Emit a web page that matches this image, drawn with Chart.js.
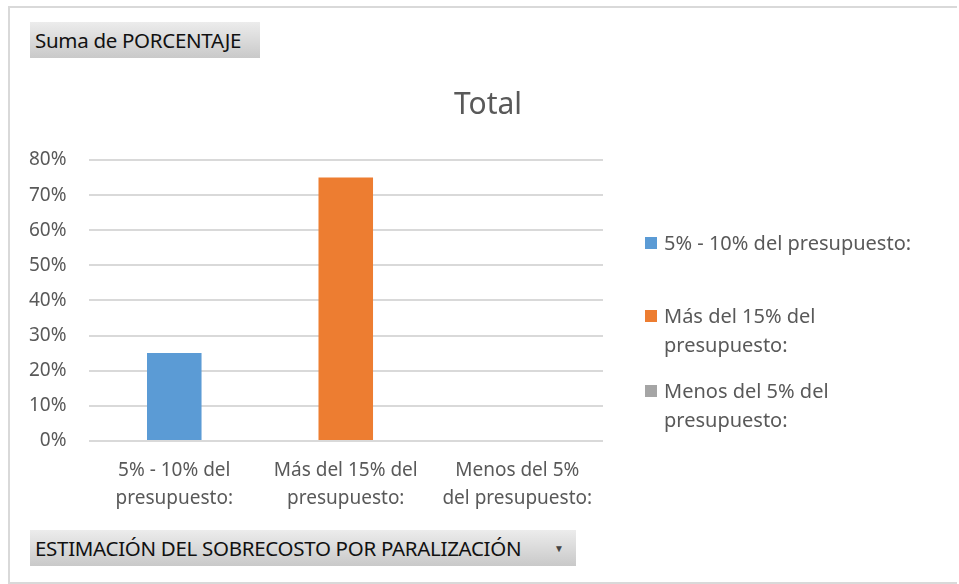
<!DOCTYPE html>
<html>
<head>
<meta charset="utf-8">
<script src="https://cdn.jsdelivr.net/npm/chart.js@4.4.1/dist/chart.umd.min.js"></script>
<style>
    body { margin: 0; background: #fff; font-family: 'Noto Sans', sans-serif; }
    #wrap { position: relative; width: 959px; height: 584px; overflow: hidden; }
    #frame { position: absolute; left: 8px; top: 6px; width: 947px; height: 574px; border: 2px solid #d9d9d9; border-right: none; }
    #chart { position: absolute; left: 0; top: 0; }
    .pivot-btn {
        position: absolute; height: 36px; line-height: 36px; padding-left: 5px; box-sizing: border-box;
        background: linear-gradient(#ececec, #c9c9c9); color: #111; font-size: 20.5px; white-space: nowrap; letter-spacing: -0.3px;
    }
    #title { position: absolute; left: 0; width: 976px; top: 82px; text-align: center; font-size: 30px; color: #595959; }
    #legend { position: absolute; left: 645px; top: 228px; color: #595959; font-size: 20px; }
    .leg-item { display: flex; align-items: flex-start; margin-bottom: 17px; }
    .leg-box { width: 12px; height: 12px; margin-top: 9px; margin-right: 7px; flex: none; }
    .leg-text { width: 268px; line-height: 29px; }
</style>
</head>
<body>
<div id="wrap">
    <div id="frame"></div>
    <canvas id="chart" width="959" height="584"></canvas>
    <div class="pivot-btn" style="left:30px; top:22px; width:230px;">Suma de PORCENTAJE</div>
    <div class="pivot-btn" style="left:30px; top:530px; width:546px;">ESTIMACIÓN DEL SOBRECOSTO POR PARALIZACIÓN<span style="position:absolute; left:524px; top:0; font-size:10px; color:#444;">&#9660;</span></div>
    <div id="title">Total</div>
    <div id="legend"></div>
</div>
<script>
const categories = ['5% - 10% del presupuesto:', 'Más del 15% del presupuesto:', 'Menos del 5% del presupuesto:'];
const tickLabels = [['5% - 10% del', 'presupuesto:'], ['Más del 15% del', 'presupuesto:'], ['Menos del 5%', 'del presupuesto:']];
const totals = [0.25, 0.75, 0];
const barColors = ['#5b9bd5', '#ed7d31', '#a5a5a5'];

// legend built from the same categories
document.getElementById('legend').innerHTML = categories.map((c, i) => `
    <div class="leg-item" ${i === 0 ? 'style="margin-bottom:44px"' : ''}>
        <div class="leg-box" style="background:${barColors[i]}"></div>
        <div class="leg-text">${c}</div>
    </div>`).join('');

const ctx = document.getElementById('chart').getContext('2d');
new Chart(ctx, {
    type: 'bar',
    data: {
        labels: tickLabels,
        datasets: [{
            label: 'Total',
            data: totals,
            backgroundColor: barColors,
            categoryPercentage: 1,
            barPercentage: 0.318
        }]
    },
    options: {
        responsive: false,
        animation: false,
        layout: { padding: { left: 7, right: 356, top: 160, bottom: 64 } },
        plugins: { legend: { display: false }, tooltip: { enabled: false }, title: { display: false } },
        scales: {
            y: {
                min: 0,
                max: 0.8,
                ticks: {
                    stepSize: 0.1,
                    padding: 22,
                    color: '#595959',
                    font: { family: 'Noto Sans', size: 19 },
                    callback: v => Math.round(v * 100) + '%'
                },
                grid: { color: '#d9d9d9', lineWidth: 2, drawTicks: false },
                border: { display: false }
            },
            x: {
                ticks: {
                    padding: 8,
                    color: '#595959',
                    maxRotation: 0,
                    font: { family: 'Noto Sans', size: 19, lineHeight: 1.45 }
                },
                grid: { display: false },
                border: { display: false }
            }
        }
    }
});
</script>
</body>
</html>
